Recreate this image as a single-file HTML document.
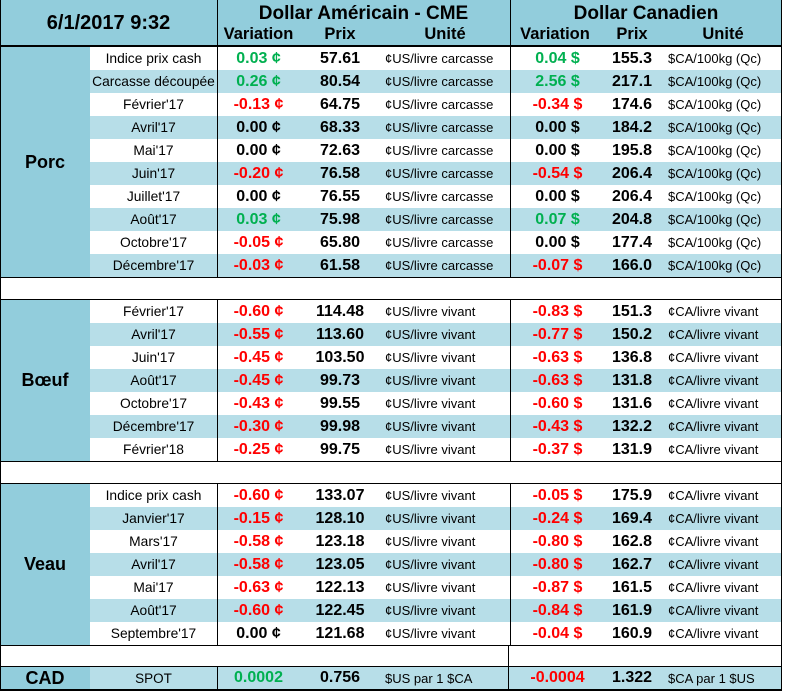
<!DOCTYPE html>
<html><head><meta charset="utf-8"><style>
body{margin:0;width:786px;height:691px;background:#fff;overflow:hidden;font-family:"Liberation Sans",sans-serif}
#t{position:absolute;left:0;top:0;width:786px;height:691px}
.c{position:absolute;box-sizing:border-box;display:flex;align-items:center;justify-content:center;white-space:nowrap;color:#000}
.ln{position:absolute;background:#000}
.g{color:#00b050}.r{color:#ff0000}
</style></head><body>
<div id="t"></div>
<script>
const sections=[
{name:'Porc',top:47,rows:[
['Indice prix cash','0.03','57.61','¢US/livre carcasse','0.04','155.3','$CA/100kg (Qc)'],
['Carcasse découpée','0.26','80.54','¢US/livre carcasse','2.56','217.1','$CA/100kg (Qc)'],
['Février\'17','-0.13','64.75','¢US/livre carcasse','-0.34','174.6','$CA/100kg (Qc)'],
['Avril\'17','0.00','68.33','¢US/livre carcasse','0.00','184.2','$CA/100kg (Qc)'],
['Mai\'17','0.00','72.63','¢US/livre carcasse','0.00','195.8','$CA/100kg (Qc)'],
['Juin\'17','-0.20','76.58','¢US/livre carcasse','-0.54','206.4','$CA/100kg (Qc)'],
['Juillet\'17','0.00','76.55','¢US/livre carcasse','0.00','206.4','$CA/100kg (Qc)'],
['Août\'17','0.03','75.98','¢US/livre carcasse','0.07','204.8','$CA/100kg (Qc)'],
['Octobre\'17','-0.05','65.80','¢US/livre carcasse','0.00','177.4','$CA/100kg (Qc)'],
['Décembre\'17','-0.03','61.58','¢US/livre carcasse','-0.07','166.0','$CA/100kg (Qc)']]},
{name:'Bœuf',top:300,rows:[
['Février\'17','-0.60','114.48','¢US/livre vivant','-0.83','151.3','¢CA/livre vivant'],
['Avril\'17','-0.55','113.60','¢US/livre vivant','-0.77','150.2','¢CA/livre vivant'],
['Juin\'17','-0.45','103.50','¢US/livre vivant','-0.63','136.8','¢CA/livre vivant'],
['Août\'17','-0.45','99.73','¢US/livre vivant','-0.63','131.8','¢CA/livre vivant'],
['Octobre\'17','-0.43','99.55','¢US/livre vivant','-0.60','131.6','¢CA/livre vivant'],
['Décembre\'17','-0.30','99.98','¢US/livre vivant','-0.43','132.2','¢CA/livre vivant'],
['Février\'18','-0.25','99.75','¢US/livre vivant','-0.37','131.9','¢CA/livre vivant']]},
{name:'Veau',top:484,rows:[
['Indice prix cash','-0.60','133.07','¢US/livre vivant','-0.05','175.9','¢CA/livre vivant'],
['Janvier\'17','-0.15','128.10','¢US/livre vivant','-0.24','169.4','¢CA/livre vivant'],
['Mars\'17','-0.58','123.18','¢US/livre vivant','-0.80','162.8','¢CA/livre vivant'],
['Avril\'17','-0.58','123.05','¢US/livre vivant','-0.80','162.7','¢CA/livre vivant'],
['Mai\'17','-0.63','122.13','¢US/livre vivant','-0.87','161.5','¢CA/livre vivant'],
['Août\'17','-0.60','122.45','¢US/livre vivant','-0.84','161.9','¢CA/livre vivant'],
['Septembre\'17','0.00','121.68','¢US/livre vivant','-0.04','160.9','¢CA/livre vivant']]}
];
const RH=23, LB='#92cddc', ST='#b7dee8';
const T=document.getElementById('t');
function cell(x,y,w,h,txt,css,name){
 const d=document.createElement('div');d.className='c';
 d.style.cssText+=`left:${x}px;top:${y}px;width:${w}px;height:${h}px;`+(css||'');
 if(txt!==null)d.textContent=txt;
 
 
 T.appendChild(d);return d;}
function line(x,y,w,h){const d=document.createElement('div');d.className='ln';d.style.cssText=`left:${x}px;top:${y}px;width:${w}px;height:${h}px`;
 
 
 T.appendChild(d);}
function cls(v){return parseFloat(v)>0?'g':(parseFloat(v)<0?'r':'');}
cell(0,0,782,46,null,'background:'+LB,'header-band');
cell(0,0,217,46,'6/1/2017 9:32','font-weight:bold;font-size:20px','timestamp');
cell(217,0,293,23,'Dollar Américain - CME','font-weight:bold;font-size:19px;padding-top:4px','usd-header');
cell(510,0,272,23,'Dollar Canadien','font-weight:bold;font-size:19px;padding-top:4px','cad-header');
[[217,83,'Variation'],[300,80,'Prix'],[380,130,'Unité'],[510,90,'Variation'],[600,64,'Prix'],[664,118,'Unité']].forEach(a=>cell(a[0],23,a[1],23,a[2],'font-weight:bold;font-size:16.5px','column-header'));
sections.forEach(s=>{
 const h=s.rows.length*RH;
 cell(0,s.top,90,h,s.name,'background:'+LB+';font-weight:bold;font-size:18px','section-label');
 s.rows.forEach((r,i)=>{
  const y=s.top+i*RH, bg=i%2?ST:'#fff';
  cell(90,y,692,RH,null,'background:'+bg,'row-bg');
  cell(90,y,127,RH,r[0],'font-size:13.8px','product-name');
  const a=cell(217,y,83,RH,r[1]+' ¢','font-weight:bold;font-size:16px','usd-variation');a.classList.add(cls(r[1])||'x');
  cell(300,y,80,RH,r[2],'font-weight:bold;font-size:16px','usd-price');
  cell(385,y,125,RH,r[3],'font-size:13px;justify-content:flex-start','usd-unit');
  const b=cell(510,y,95,RH,r[4]+' $','font-weight:bold;font-size:16px','cad-variation');b.classList.add(cls(r[4])||'x');
  cell(600,y,64,RH,r[5],'font-weight:bold;font-size:16px','cad-price');
  cell(668,y,114,RH,r[6],'font-size:13px;justify-content:flex-start','cad-unit');
 });
 line(0,s.top-1,782,1);line(0,s.top+h,782,1);
 line(217,s.top,1,h);line(510,s.top,1,h);
});
cell(0,667,90,22,'CAD','background:'+LB+';font-weight:bold;font-size:18px','cad-label');
cell(90,667,692,22,null,'background:'+ST,'row-bg');
cell(90,667,127,22,'SPOT','font-size:13.5px','spot-label');
cell(217,667,83,22,'0.0002','font-weight:bold;font-size:16px;color:#00b050','spot-usd-variation');
cell(300,667,80,22,'0.756','font-weight:bold;font-size:16px','spot-usd-price');
cell(385,667,125,22,'$US par 1 $CA','font-size:13px;justify-content:flex-start','spot-usd-unit');
cell(510,667,95,22,'-0.0004','font-weight:bold;font-size:16px;color:#ff0000','spot-cad-variation');
cell(600,667,64,22,'1.322','font-weight:bold;font-size:16px','spot-cad-price');
cell(668,667,114,22,'$CA par 1 $US','font-size:13px;justify-content:flex-start','spot-cad-unit');
line(0,645,782,1);line(0,666,782,1);line(0,689,782,2);
line(217,667,1,22);line(508,645,1,44);
line(0,45,782,1);line(217,0,1,46);line(510,0,1,46);
line(0,0,1,691);line(781,0,1,691);
</script>
</body></html>
